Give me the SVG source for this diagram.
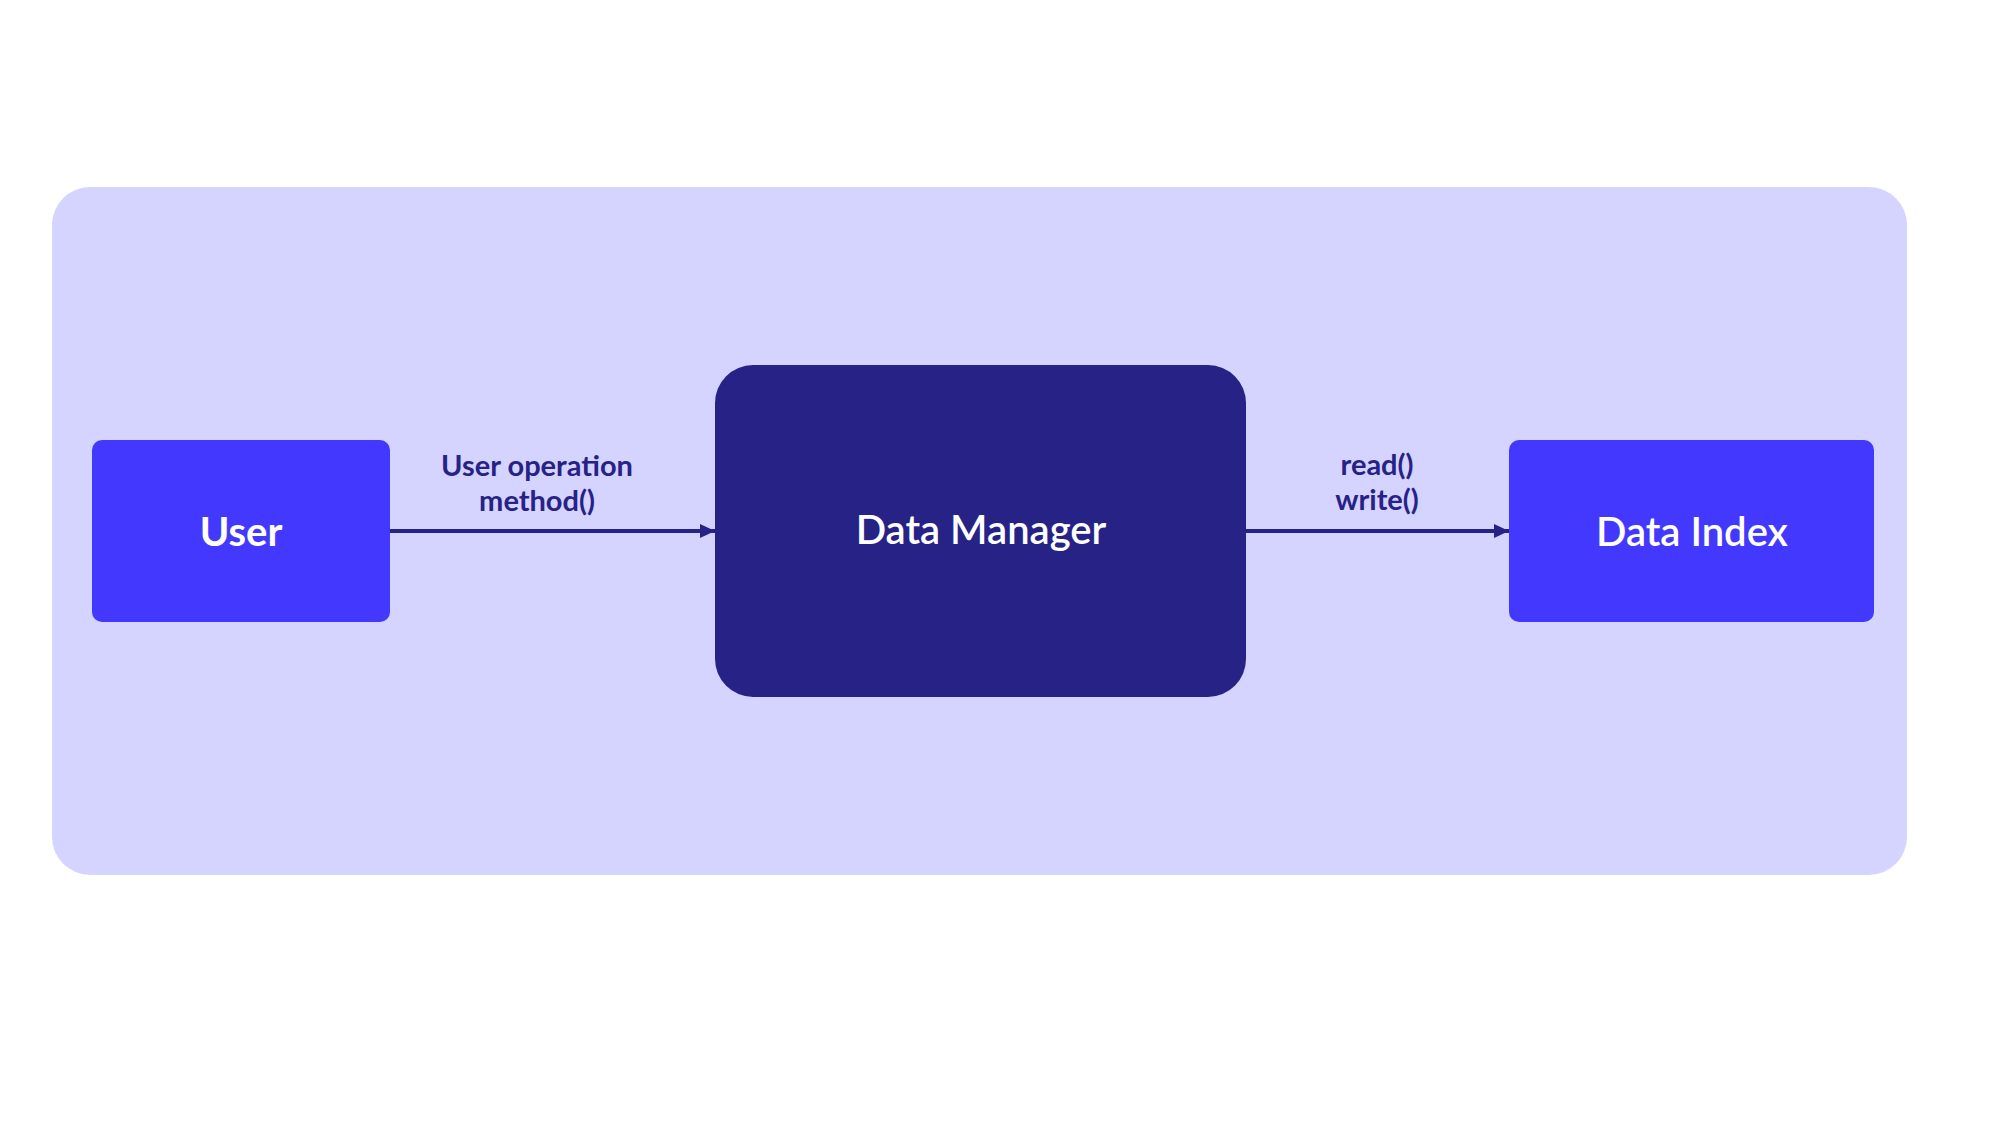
<svg xmlns="http://www.w3.org/2000/svg" width="2000" height="1125" viewBox="0 0 2000 1125">
  <style>
    .title { font-family: Lato, "Liberation Sans", sans-serif; font-size: 40px; font-weight: bold; fill: #ffffff; text-anchor: middle; }
    .label { font-family: Lato, "Liberation Sans", sans-serif; font-size: 29px; font-weight: bold; fill: #262286; text-anchor: middle; }
    .conn { stroke: #262286; stroke-width: 4; fill: none; }
  </style>
  <defs>
    <marker id="arrow" viewBox="0 0 15 14" refX="15" refY="7" markerWidth="15" markerHeight="14" markerUnits="userSpaceOnUse" orient="auto">
      <path d="M0,0 L15,7 L0,14 Z" fill="#262286"/>
    </marker>
  </defs>
  <rect x="0" y="0" width="2000" height="1125" fill="#ffffff"/>
  <rect id="container" x="52" y="187" width="1855" height="688" rx="38" ry="38" fill="#D5D3FF"/>
  <g id="connectors">
    <line class="conn" x1="390" y1="531" x2="715" y2="531" marker-end="url(#arrow)"/>
    <text class="label" x="537" y="476">User operation</text>
    <text class="label" x="537" y="511">method()</text>
    <line class="conn" x1="1246" y1="531" x2="1509" y2="531" marker-end="url(#arrow)"/>
    <text class="label" x="1377" y="475">read()</text>
    <text class="label" x="1377" y="510">write()</text>
  </g>
  <g id="user">
    <rect x="92" y="440" width="298" height="182" rx="10" ry="10" fill="#4339FE"/>
    <text class="title" x="241" y="546">User</text>
  </g>
  <g id="data-manager">
    <rect x="715" y="365" width="531" height="332" rx="38" ry="38" fill="#262286"/>
    <text class="title" x="981" y="544" font-weight="normal" style="font-weight:600">Data Manager</text>
  </g>
  <g id="data-index">
    <rect x="1509" y="440" width="365" height="182" rx="10" ry="10" fill="#4339FE"/>
    <text class="title" x="1692" y="546" style="font-weight:600">Data Index</text>
  </g>
</svg>
